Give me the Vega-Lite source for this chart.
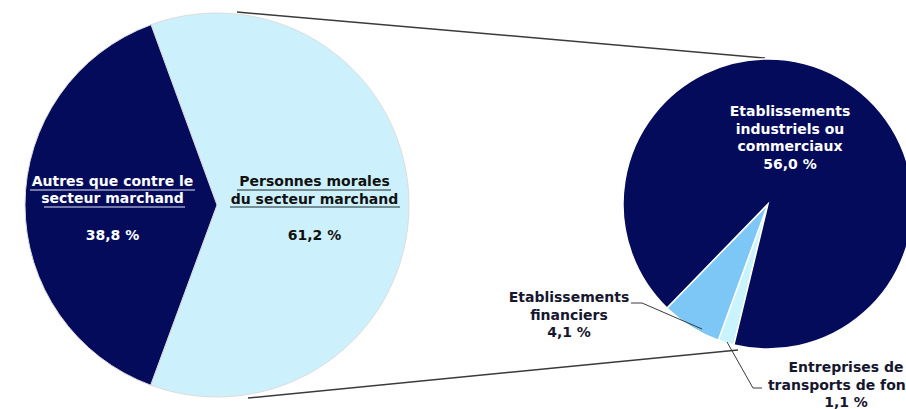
{
  "$schema": "https://vega.github.io/schema/vega-lite/v6.json",
  "width": 906,
  "height": 409,
  "autosize": "none",
  "padding": 0,
  "background": "white",
  "config": {"view": {"stroke": null}, "text": {"font": "DejaVu Sans", "fontWeight": "bold", "fontSize": 14}},
  "datasets": {
    "pie1": [
      {"cat": "Personnes morales du secteur marchand", "value": 61.2, "order": 1, "label": "Personnes morales\ndu secteur marchand", "pct": "61,2 %"},
      {"cat": "Autres que contre le secteur marchand", "value": 38.8, "order": 2, "label": "Autres que contre le\nsecteur marchand", "pct": "38,8 %"}
    ],
    "pie2": [
      {"cat": "Entreprises de transports de fonds", "value": 1.1, "order": 1, "label": "Entreprises de\ntransports de fonds\n1,1 %"},
      {"cat": "Etablissements financiers", "value": 4.1, "order": 2, "label": "Etablissements\nfinanciers\n4,1 %"},
      {"cat": "Etablissements industriels ou commerciaux", "value": 56.0, "order": 3, "label": "Etablissements\nindustriels ou\ncommerciaux\n56,0 %"}
    ]
  },
  "layer": [
    {
      "data": {"values": [{}]},
      "mark": {"type": "rule", "color": "#3a3a3a", "strokeWidth": 1.5},
      "encoding": {
        "x": {"datum": 237, "type": "quantitative", "scale": {"domain": [0, 906], "nice": false, "zero": false}, "axis": null},
        "y": {"datum": 12, "type": "quantitative", "scale": {"domain": [0, 409], "nice": false, "zero": false, "reverse": true}, "axis": null},
        "x2": {"datum": 765},
        "y2": {"datum": 58}
      }
    },
    {
      "data": {"values": [{}]},
      "mark": {"type": "rule", "color": "#3a3a3a", "strokeWidth": 1.5},
      "encoding": {
        "x": {"datum": 248, "type": "quantitative", "scale": {"domain": [0, 906], "nice": false, "zero": false}, "axis": null},
        "y": {"datum": 398, "type": "quantitative", "scale": {"domain": [0, 409], "nice": false, "zero": false, "reverse": true}, "axis": null},
        "x2": {"datum": 738},
        "y2": {"datum": 350}
      }
    },
    {
      "data": {"name": "pie1"},
      "encoding": {
        "theta": {"field": "value", "type": "quantitative", "stack": true, "scale": {"range": [-0.3508, 5.9324]}},
        "order": {"field": "order", "type": "quantitative"},
        "x": {"datum": 217, "type": "quantitative", "scale": {"domain": [0, 906], "nice": false, "zero": false}, "axis": null},
        "y": {"datum": 205, "type": "quantitative", "scale": {"domain": [0, 409], "nice": false, "zero": false, "reverse": true}, "axis": null}
      },
      "layer": [
        {
          "mark": {"type": "arc", "outerRadius": 192, "stroke": "#dcdcdc", "strokeWidth": 1},
          "encoding": {
            "color": {"field": "cat", "type": "nominal", "legend": null,
              "scale": {"domain": ["Personnes morales du secteur marchand", "Autres que contre le secteur marchand"], "range": ["#cdf1fc", "#030b5a"]}}
          }
        },
        {
          "mark": {"type": "text", "radius": 101, "dx": -3.5, "dy": -23, "align": "center", "baseline": "middle", "lineBreak": "\n", "lineHeight": 17.5},
          "encoding": {
            "text": {"field": "label"},
            "color": {"condition": {"test": "datum.order === 2", "value": "#ffffff"}, "value": "#111111"}
          }
        },
        {
          "mark": {"type": "text", "radius": 101, "dx": -3.5, "dy": 31, "align": "center", "baseline": "middle"},
          "encoding": {
            "text": {"field": "pct"},
            "color": {"condition": {"test": "datum.order === 2", "value": "#ffffff"}, "value": "#111111"}
          }
        }
      ]
    },
    {
      "data": {"name": "pie2"},
      "encoding": {
        "theta": {"field": "value", "type": "quantitative", "stack": true, "scale": {"range": [3.379, 9.6622]}},
        "order": {"field": "order", "type": "quantitative"},
        "x": {"datum": 768, "type": "quantitative", "scale": {"domain": [0, 906], "nice": false, "zero": false}, "axis": null},
        "y": {"datum": 204, "type": "quantitative", "scale": {"domain": [0, 409], "nice": false, "zero": false, "reverse": true}, "axis": null}
      },
      "layer": [
        {
          "mark": {"type": "arc", "outerRadius": 145, "stroke": "#ffffff", "strokeWidth": 1.5},
          "encoding": {
            "color": {"field": "cat", "type": "nominal", "legend": null,
              "scale": {"domain": ["Entreprises de transports de fonds", "Etablissements financiers", "Etablissements industriels ou commerciaux"], "range": ["#c9f3fd", "#7cc7f5", "#030b5a"]}}
          }
        }
      ]
    },
    {
      "data": {"name": "pie2"},
      "transform": [{"filter": "datum.order === 3"}],
      "mark": {"type": "text", "align": "center", "baseline": "middle", "lineBreak": "\n", "lineHeight": 17.7, "color": "#ffffff"},
      "encoding": {
        "text": {"field": "label"},
        "x": {"datum": 790, "type": "quantitative", "scale": {"domain": [0, 906], "nice": false, "zero": false}, "axis": null},
        "y": {"datum": 112, "type": "quantitative", "scale": {"domain": [0, 409], "nice": false, "zero": false, "reverse": true}, "axis": null}
      }
    },
    {
      "data": {"name": "pie2"},
      "transform": [{"filter": "datum.order === 2"}],
      "mark": {"type": "text", "align": "center", "baseline": "middle", "lineBreak": "\n", "lineHeight": 17.5, "color": "#16162e"},
      "encoding": {
        "text": {"field": "label"},
        "x": {"datum": 569, "type": "quantitative", "scale": {"domain": [0, 906], "nice": false, "zero": false}, "axis": null},
        "y": {"datum": 298, "type": "quantitative", "scale": {"domain": [0, 409], "nice": false, "zero": false, "reverse": true}, "axis": null}
      }
    },
    {
      "data": {"name": "pie2"},
      "transform": [{"filter": "datum.order === 1"}],
      "mark": {"type": "text", "align": "center", "baseline": "middle", "lineBreak": "\n", "lineHeight": 17.5, "color": "#16162e"},
      "encoding": {
        "text": {"field": "label"},
        "x": {"datum": 846, "type": "quantitative", "scale": {"domain": [0, 906], "nice": false, "zero": false}, "axis": null},
        "y": {"datum": 368, "type": "quantitative", "scale": {"domain": [0, 409], "nice": false, "zero": false, "reverse": true}, "axis": null}
      }
    },
    {
      "data": {"values": [{}]},
      "mark": {"type": "rule", "color": "#3a3a3a", "strokeWidth": 1},
      "encoding": {
        "x": {"datum": 631, "type": "quantitative", "scale": {"domain": [0, 906], "nice": false, "zero": false}, "axis": null},
        "y": {"datum": 303, "type": "quantitative", "scale": {"domain": [0, 409], "nice": false, "zero": false, "reverse": true}, "axis": null},
        "x2": {"datum": 642},
        "y2": {"datum": 303}
      }
    },
    {
      "data": {"values": [{}]},
      "mark": {"type": "rule", "color": "#3a3a3a", "strokeWidth": 1},
      "encoding": {
        "x": {"datum": 642, "type": "quantitative", "scale": {"domain": [0, 906], "nice": false, "zero": false}, "axis": null},
        "y": {"datum": 303, "type": "quantitative", "scale": {"domain": [0, 409], "nice": false, "zero": false, "reverse": true}, "axis": null},
        "x2": {"datum": 702},
        "y2": {"datum": 329}
      }
    },
    {
      "data": {"values": [{}]},
      "mark": {"type": "rule", "color": "#3a3a3a", "strokeWidth": 1},
      "encoding": {
        "x": {"datum": 727, "type": "quantitative", "scale": {"domain": [0, 906], "nice": false, "zero": false}, "axis": null},
        "y": {"datum": 342, "type": "quantitative", "scale": {"domain": [0, 409], "nice": false, "zero": false, "reverse": true}, "axis": null},
        "x2": {"datum": 753},
        "y2": {"datum": 388}
      }
    },
    {
      "data": {"values": [{}]},
      "mark": {"type": "rule", "color": "#3a3a3a", "strokeWidth": 1},
      "encoding": {
        "x": {"datum": 753, "type": "quantitative", "scale": {"domain": [0, 906], "nice": false, "zero": false}, "axis": null},
        "y": {"datum": 388, "type": "quantitative", "scale": {"domain": [0, 409], "nice": false, "zero": false, "reverse": true}, "axis": null},
        "x2": {"datum": 762},
        "y2": {"datum": 388}
      }
    },
    {
      "data": {"values": [{}]},
      "mark": {"type": "rule", "color": "#e8e8f4", "strokeWidth": 1},
      "encoding": {
        "x": {"datum": 30, "type": "quantitative", "scale": {"domain": [0, 906], "nice": false, "zero": false}, "axis": null},
        "y": {"datum": 190, "type": "quantitative", "scale": {"domain": [0, 409], "nice": false, "zero": false, "reverse": true}, "axis": null},
        "x2": {"datum": 195},
        "y2": {"datum": 190}
      }
    },
    {
      "data": {"values": [{}]},
      "mark": {"type": "rule", "color": "#e8e8f4", "strokeWidth": 1},
      "encoding": {
        "x": {"datum": 44, "type": "quantitative", "scale": {"domain": [0, 906], "nice": false, "zero": false}, "axis": null},
        "y": {"datum": 207, "type": "quantitative", "scale": {"domain": [0, 409], "nice": false, "zero": false, "reverse": true}, "axis": null},
        "x2": {"datum": 185},
        "y2": {"datum": 207}
      }
    },
    {
      "data": {"values": [{}]},
      "mark": {"type": "rule", "color": "#1a2a2a", "strokeWidth": 1},
      "encoding": {
        "x": {"datum": 237, "type": "quantitative", "scale": {"domain": [0, 906], "nice": false, "zero": false}, "axis": null},
        "y": {"datum": 190, "type": "quantitative", "scale": {"domain": [0, 409], "nice": false, "zero": false, "reverse": true}, "axis": null},
        "x2": {"datum": 391},
        "y2": {"datum": 190}
      }
    },
    {
      "data": {"values": [{}]},
      "mark": {"type": "rule", "color": "#1a2a2a", "strokeWidth": 1},
      "encoding": {
        "x": {"datum": 230, "type": "quantitative", "scale": {"domain": [0, 906], "nice": false, "zero": false}, "axis": null},
        "y": {"datum": 207, "type": "quantitative", "scale": {"domain": [0, 409], "nice": false, "zero": false, "reverse": true}, "axis": null},
        "x2": {"datum": 400},
        "y2": {"datum": 207}
      }
    }
  ],
  "resolve": {"scale": {"theta": "independent", "color": "independent"}}
}
